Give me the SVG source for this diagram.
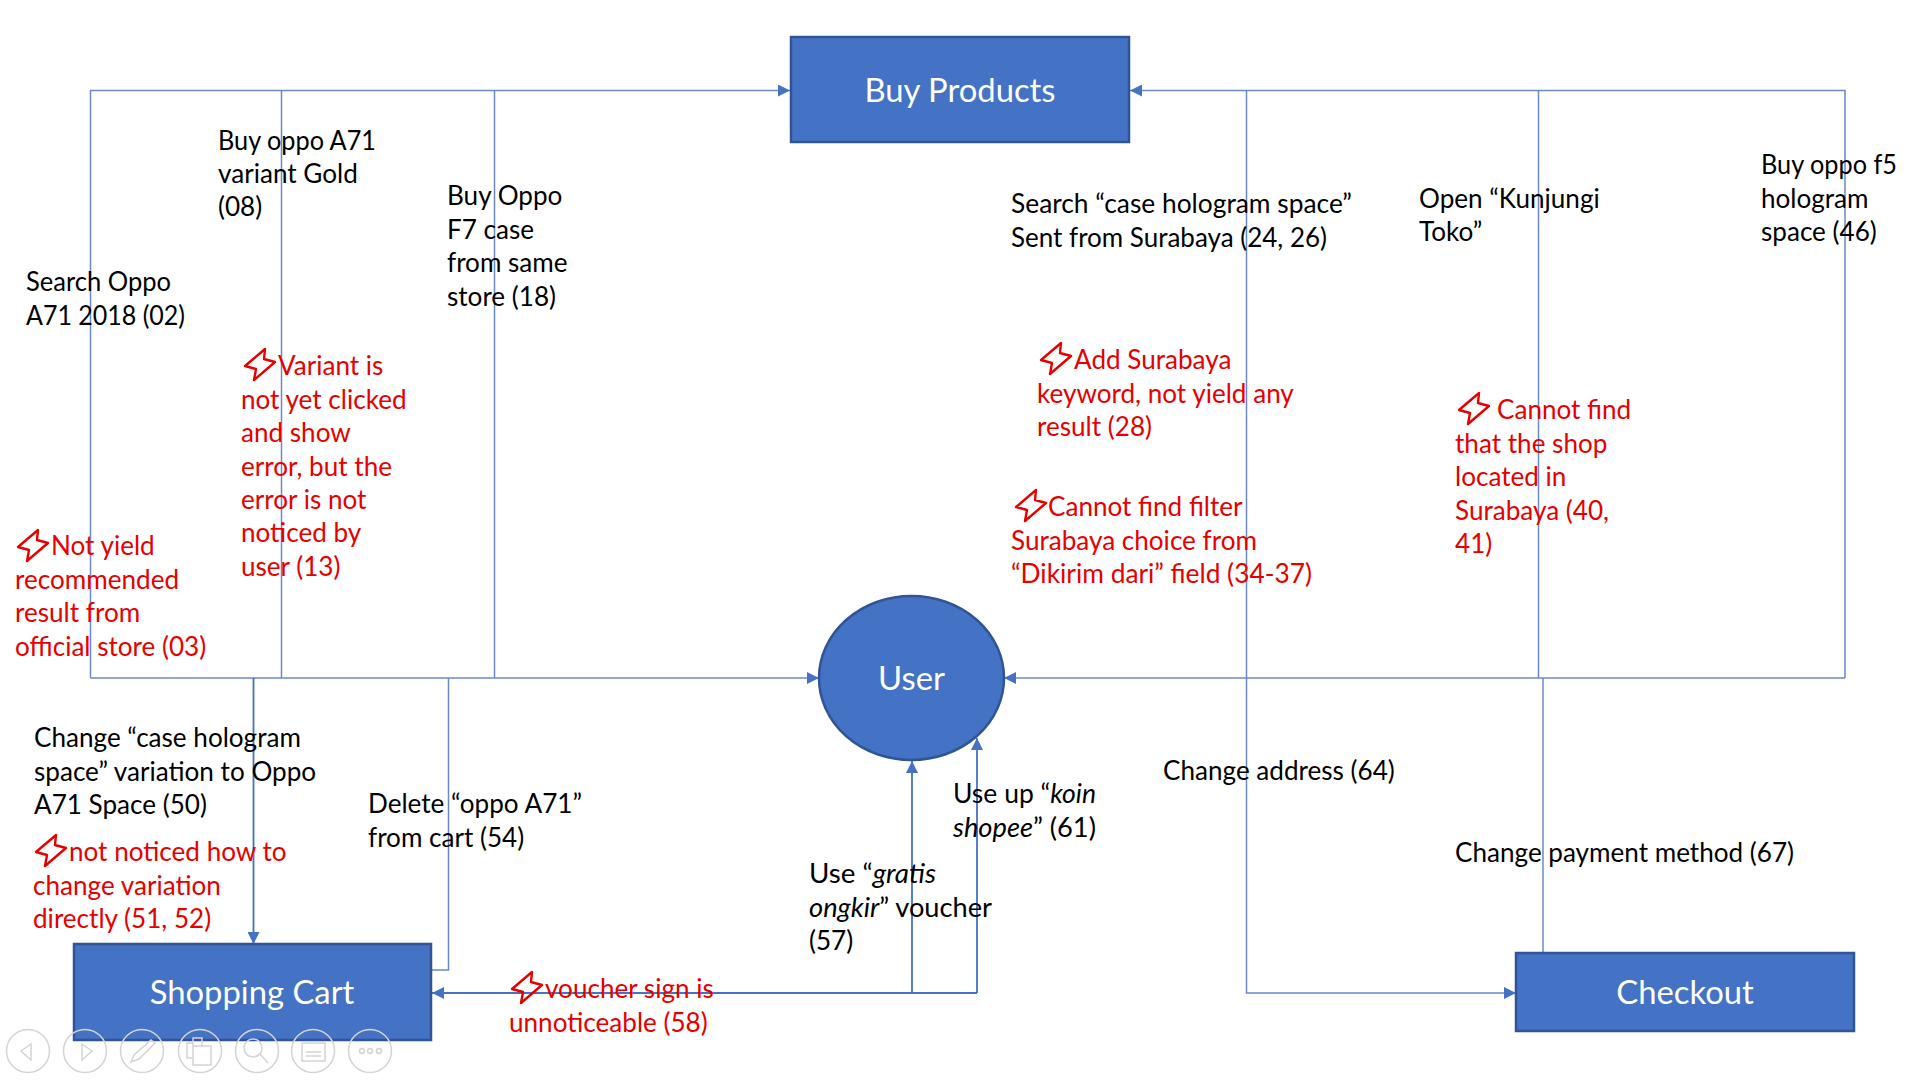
<svg xmlns="http://www.w3.org/2000/svg" width="1920" height="1080" viewBox="0 0 1920 1080">
<style>
text{font-family:"Lato","Open Sans","Liberation Sans",sans-serif}
.b{font-size:26.1px;fill:#000}
.r{font-size:26.1px;fill:#e60000}
.w{font-size:32.8px;fill:#fff;text-anchor:middle}
.n{fill:#4472c4;stroke:#2f5597;stroke-width:2.5}
.c{fill:none;stroke:#6a89c9;stroke-width:1.5}
.d{fill:none;stroke:#4472c4;stroke-width:1.8}
.t{fill:none;stroke:#d4d4d4;stroke-width:1.5}
</style>
<defs>
<marker id="a" markerUnits="userSpaceOnUse" markerWidth="13" markerHeight="12" refX="12" refY="6" orient="auto"><path d="M0 0L12 6L0 12z" fill="#4472c4"/></marker>
<path id="bolt" d="M6-15L-14 2L-3 5L-5 16L16-2L5-5z" fill="none" stroke="#e60000" stroke-width="2.4" stroke-linejoin="round"/>
</defs>
<g id="connectors">
<path class="c" d="M90.500 678V90.500H790" marker-end="url(#a)"/>
<path class="c" d="M281.500 678V90.500M494.500 678V90.500M1246.500 678V90.500M1538.500 678V90.500"/>
<path class="c" d="M1845 678V90.500H1130" marker-end="url(#a)"/>
<path class="c" d="M90.500 678H819" marker-end="url(#a)"/>
<path class="c" d="M1845 678H1004" marker-end="url(#a)"/>
<path class="d" d="M253.500 678V944" marker-end="url(#a)"/>
<path class="c" d="M448.500 678V970H432"/>
<path class="d" d="M977 993H432" marker-end="url(#a)"/>
<path class="d" d="M912 993V761" marker-end="url(#a)"/>
<path class="d" d="M977 993V738" marker-end="url(#a)"/>
<path class="c" d="M1246.500 678V993H1516" marker-end="url(#a)"/>
<path class="c" d="M1543 678V953"/>
</g>
<g id="buy-products"><rect class="n" x="791" y="37" width="338" height="105"/><text class="w" x="960" y="102">Buy Products</text></g>
<g id="user"><ellipse class="n" cx="911.500" cy="678" rx="92.500" ry="82"/><text class="w" x="911.500" y="690">User</text></g>
<g id="shopping-cart"><rect class="n" x="74" y="944" width="357" height="96"/><text class="w" x="252" y="1004">Shopping Cart</text></g>
<g id="checkout"><rect class="n" x="1516" y="953" width="338" height="78"/><text class="w" x="1685" y="1004">Checkout</text></g>
<g id="labels" transform="translate(0 1)">
<text class="b" x="218" y="149" textLength="158" lengthAdjust="spacingAndGlyphs">Buy oppo A71</text><text class="b" x="218" y="182">variant Gold</text><text class="b" x="218" y="215">(08)</text>
<text class="b" x="447" y="204">Buy Oppo</text><text class="b" x="447" y="238">F7 case</text><text class="b" x="447" y="271">from same</text><text class="b" x="447" y="305">store (18)</text>
<text class="b" x="26" y="290" textLength="145" lengthAdjust="spacingAndGlyphs">Search Oppo</text><text class="b" x="26" y="324" textLength="159" lengthAdjust="spacingAndGlyphs">A71 2018 (02)</text>
<text class="b" x="1011" y="212" textLength="341" lengthAdjust="spacingAndGlyphs">Search “case hologram space”</text><text class="b" x="1011" y="246" textLength="316" lengthAdjust="spacingAndGlyphs">Sent from Surabaya (24, 26)</text>
<text class="b" x="1419" y="207">Open “Kunjungi</text><text class="b" x="1419" y="240">Toko”</text>
<text class="b" x="1761" y="173" textLength="136" lengthAdjust="spacingAndGlyphs">Buy oppo f5</text><text class="b" x="1761" y="207">hologram</text><text class="b" x="1761" y="240">space (46)</text>
<text class="b" x="34" y="746">Change “case hologram</text><text class="b" x="34" y="780">space” variation to Oppo</text><text class="b" x="34" y="813">A71 Space (50)</text>
<text class="b" x="368" y="812">Delete “oppo A71”</text><text class="b" x="368" y="846">from cart (54)</text>
<text class="b" x="809" y="882" textLength="127" lengthAdjust="spacingAndGlyphs">Use “<tspan font-style="italic">gratis</tspan></text><text class="b" x="809" y="916" textLength="183" lengthAdjust="spacingAndGlyphs"><tspan font-style="italic">ongkir</tspan>” voucher</text><text class="b" x="809" y="949">(57)</text>
<text class="b" x="953" y="802" textLength="143" lengthAdjust="spacingAndGlyphs">Use up “<tspan font-style="italic">koin</tspan></text><text class="b" x="953" y="836" textLength="143" lengthAdjust="spacingAndGlyphs"><tspan font-style="italic">shopee</tspan>” (61)</text>
<text class="b" x="1163" y="779">Change address (64)</text>
<text class="b" x="1455" y="861">Change payment method (67)</text>
</g>
<g id="issues" transform="translate(0 1)">
<use href="#bolt" x="259" y="363"/><text class="r" x="278" y="374">Variant is</text><text class="r" x="241" y="408">not yet clicked</text><text class="r" x="241" y="441">and show</text><text class="r" x="241" y="475">error, but the</text><text class="r" x="241" y="508">error is not</text><text class="r" x="241" y="541">noticed by</text><text class="r" x="241" y="575">user (13)</text>
<use href="#bolt" x="32" y="544"/><text class="r" x="51" y="554">Not yield</text><text class="r" x="15" y="588">recommended</text><text class="r" x="15" y="621">result from</text><text class="r" x="15" y="655">official store (03)</text>
<use href="#bolt" x="1055" y="357"/><text class="r" x="1074" y="368">Add Surabaya</text><text class="r" x="1037" y="402">keyword, not yield any</text><text class="r" x="1037" y="435">result (28)</text>
<use href="#bolt" x="1030" y="504"/><text class="r" x="1048" y="515">Cannot find filter</text><text class="r" x="1011" y="549">Surabaya choice from</text><text class="r" x="1011" y="582" textLength="301" lengthAdjust="spacingAndGlyphs">“Dikirim dari” field (34-37)</text>
<use href="#bolt" x="1473" y="407"/><text class="r" x="1497" y="418">Cannot find</text><text class="r" x="1455" y="452">that the shop</text><text class="r" x="1455" y="485">located in</text><text class="r" x="1455" y="519">Surabaya (40,</text><text class="r" x="1455" y="552">41)</text>
<use href="#bolt" x="50" y="849"/><text class="r" x="69" y="860">not noticed how to</text><text class="r" x="33" y="894">change variation</text><text class="r" x="33" y="927">directly (51, 52)</text>
<use href="#bolt" x="526" y="986"/><text class="r" x="545" y="997">voucher sign is</text><text class="r" x="509" y="1031">unnoticeable (58)</text>
</g>
<g id="toolbar">
<circle class="t" cx="28" cy="1051" r="21.500"/><path class="t" d="M31 1044L21 1051L31 1060z"/>
<circle class="t" cx="85" cy="1051" r="21.500"/><path class="t" d="M82 1044L92 1051L82 1060z"/>
<circle class="t" cx="142" cy="1051" r="21.500"/><path class="t" d="M131 1062L134 1055L151 1040L155 1043L139 1059z"/>
<circle class="t" cx="200" cy="1051" r="21.500"/><path class="t" d="M193 1046h18v19h-18zM187 1043h6v15h-6zM193 1038h9v8h-9z"/>
<circle class="t" cx="257" cy="1051" r="21.500"/><circle class="t" cx="253" cy="1048" r="9"/><path class="t" d="M260 1054L268 1063"/>
<circle class="t" cx="313" cy="1051" r="21.500"/><rect class="t" x="302" y="1043" width="23" height="18"/><path class="t" d="M306 1052h15M306 1056h15"/>
<circle class="t" cx="370" cy="1051" r="21.500"/><circle class="t" cx="362" cy="1051" r="2.500"/><circle class="t" cx="370" cy="1051" r="2.500"/><circle class="t" cx="379" cy="1051" r="2.500"/>
</g>
</svg>
